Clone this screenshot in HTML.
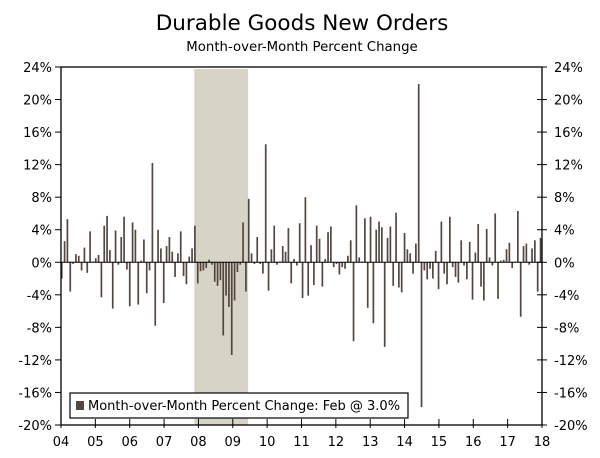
<!DOCTYPE html>
<html><head><meta charset="utf-8"><style>
body{margin:0;background:#fff;}
svg text{font-family:"DejaVu Sans","Liberation Sans",sans-serif;fill:#000;}
</style></head><body>
<svg id="chart" width="600" height="453" xmlns="http://www.w3.org/2000/svg">
<text x="302" y="30" text-anchor="middle" font-size="21.5">Durable Goods New Orders</text>
<text x="302" y="51" text-anchor="middle" font-size="13.3">Month-over-Month Percent Change</text>
<g id="plot"></g>
</svg>
<script>
const values = [-2.0,2.6,5.3,-3.6,-0.2,1.0,0.8,-1.0,1.8,-1.3,3.8,0.1,0.5,0.9,-4.3,4.5,5.7,1.5,-5.7,3.9,-0.3,3.1,5.6,-0.9,-5.4,4.9,4.0,-5.2,0.2,2.8,-3.8,-1.0,12.2,-7.8,4.0,1.7,-5.0,2.0,3.1,1.3,-1.8,1.1,3.8,-1.7,-2.7,0.7,1.7,4.5,-2.6,-1.1,-1.0,-0.7,0.3,-0.3,-2.4,-2.9,-2.2,
-9.0,-4.1,-5.5,-11.4,-4.7,-1.2,-0.3,4.9,-3.6,7.8,1.1,-0.2,3.1,-0.2,-1.4,14.5,-3.5,1.6,4.5,-0.3,0.1,2.0,1.3,4.2,-2.6,0.4,-0.4,4.8,-4.4,8.0,-4.1,2.1,-2.8,4.5,2.9,-3.0,0.4,3.7,4.4,-0.6,-0.2,-1.5,-0.6,-0.8,0.8,2.7,-9.7,7.0,0.6,0.1,5.4,-5.6,5.6,-7.5,4.0,5.0,4.3,-10.4,3.0,
4.4,-2.9,6.1,-3.1,-3.7,3.6,1.6,1.1,-1.4,2.3,21.9,-17.8,-1.0,-2.1,-0.8,-2.0,1.4,-3.3,5.0,-1.4,-2.7,5.6,-0.6,-1.8,-2.5,2.7,-0.4,-2.1,2.5,-4.6,1.2,4.7,-3.0,-4.7,4.1,0.6,-0.4,6.0,-4.5,0.2,0.3,1.6,2.4,-0.7,0.1,6.3,-6.7,2.0,2.3,-0.3,1.7,2.7,-3.6,3.0];
const yTicks = [-20,-16,-12,-8,-4,0,4,8,12,16,20,24];
const yearLabels = ["04","05","06","07","08","09","10","11","12","13","14","15","16","17","18"];
const recession = [46.8, 65.8];
const legendLabel = "Month-over-Month Percent Change: Feb @ 3.0%";

const L=61,R=542,T=67,B=425,yMin=-20,yMax=24;
const y=v=>B-(v-yMin)/(yMax-yMin)*(B-T);
const x=i=>61.7+i*2.833;
const yr=k=>L+k*(R-L)/(yearLabels.length-1);
const NS='http://www.w3.org/2000/svg';
const g=document.getElementById('plot');
function mk(t,a){const e=document.createElementNS(NS,t);for(const k in a)e.setAttribute(k,a[k]);g.appendChild(e);return e;}

let e=mk('rect',{x:x(recession[0]),y:T+2,width:x(recession[1])-x(recession[0]),height:B-T-2,fill:'#d7d4c7'});



values.forEach((v,i)=>{
  const r=mk('rect',{x:x(i)-0.8,y:Math.min(y(v),y(0)),width:1.7,height:Math.abs(y(v)-y(0)),fill:'#54473f'});
  
  
});

e=mk('line',{x1:L,x2:R,y1:y(0),y2:y(0),stroke:'#000','stroke-width':1});


e=mk('rect',{x:L,y:T,width:R-L,height:B-T,fill:'none',stroke:'#000','stroke-width':1.3});



yTicks.forEach(t=>{
  const yy=y(t);
  let a=mk('line',{x1:L-6,x2:L,y1:yy,y2:yy,stroke:'#000'});
  
  
  a=mk('line',{x1:R-5,x2:R+5,y1:yy,y2:yy,stroke:'#000'});
  
  
  a=mk('text',{x:L-9,y:yy+5,'text-anchor':'end','font-size':'13'});a.textContent=t+'%';
  
  
  a=mk('text',{x:R+12,y:yy+5,'text-anchor':'start','font-size':'13'});a.textContent=t+'%';
  
  
});
yearLabels.forEach((s,k)=>{
  const xx=yr(k);
  let a=mk('line',{x1:xx,x2:xx,y1:B-6,y2:B+3,stroke:'#000'});
  
  
  a=mk('text',{x:xx,y:446,'text-anchor':'middle','font-size':'13'});a.textContent=s;
  
  
});
e=mk('rect',{x:70,y:393,width:338,height:25,fill:'#fff',stroke:'#000','stroke-width':1.2});


e=mk('rect',{x:76,y:401,width:8,height:9,fill:'#54473f'});


e=mk('text',{x:88,y:410,'font-size':'13'});e.textContent=legendLabel;


</script>
</body></html>
